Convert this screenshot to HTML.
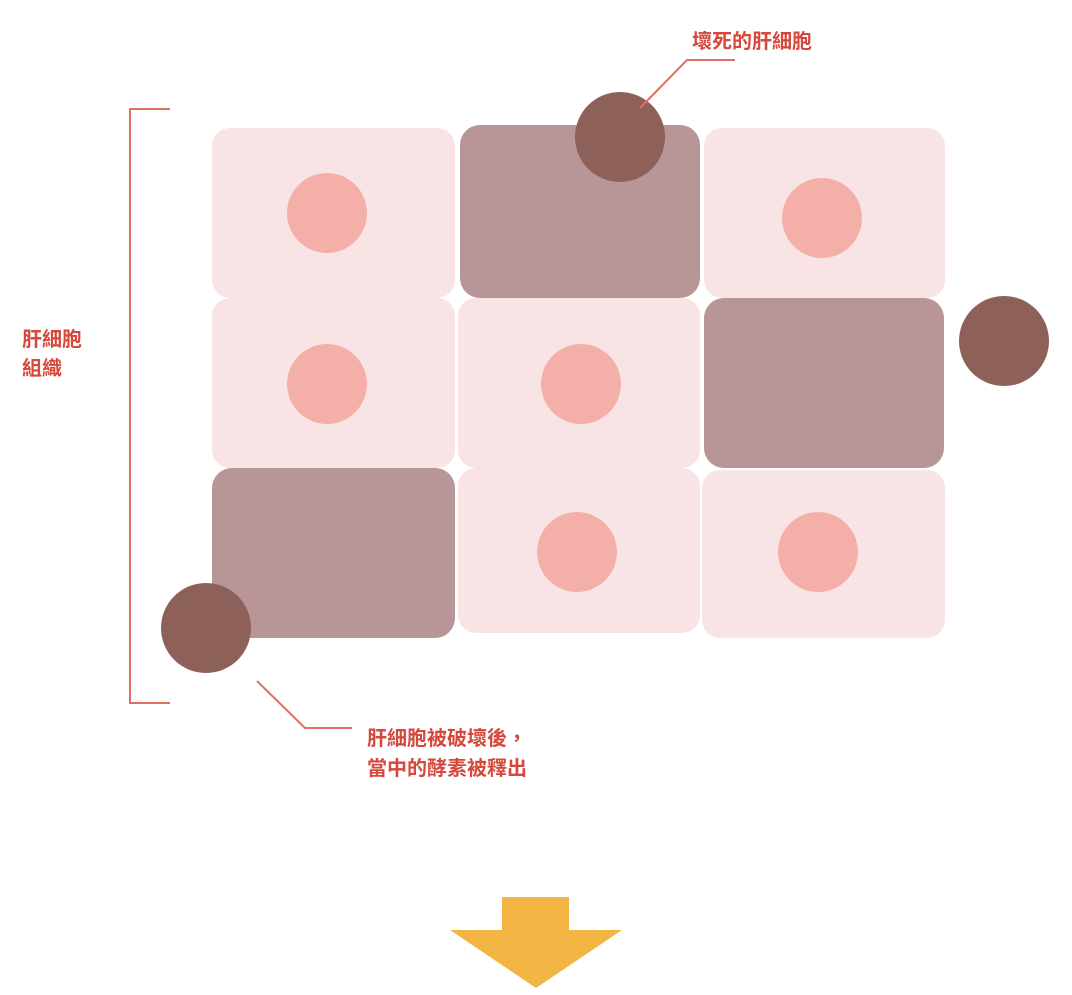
<!DOCTYPE html>
<html><head><meta charset="utf-8"><style>
html,body{margin:0;padding:0;background:#fff;}
svg text{font-family:"Liberation Sans","Noto Sans CJK TC",sans-serif;font-weight:bold;fill:#d5483c;font-size:20px;}
</style></head><body>
<svg width="1072" height="990" viewBox="0 0 1072 990" xmlns="http://www.w3.org/2000/svg">
<g fill="#f9e4e5">
<rect x="212" y="128" width="243" height="170" rx="18"/>
<rect x="704" y="128" width="241" height="170" rx="18"/>
<rect x="212" y="298" width="243" height="170" rx="18"/>
<rect x="458" y="298" width="242" height="170" rx="18"/>
<rect x="458" y="468" width="242" height="165" rx="18"/>
<rect x="702" y="470" width="243" height="168" rx="18"/>
</g>
<g fill="#b89597">
<rect x="460" y="125" width="240" height="173" rx="20"/>
<rect x="704" y="298" width="240" height="170" rx="20"/>
<rect x="212" y="468" width="243" height="170" rx="20"/>
</g>
<g fill="#f4b0a8">
<circle cx="327" cy="213" r="40"/><circle cx="822" cy="218" r="40"/>
<circle cx="327" cy="384" r="40"/><circle cx="581" cy="384" r="40"/>
<circle cx="577" cy="552" r="40"/><circle cx="818" cy="552" r="40"/>
</g>
<g fill="#8e605a">
<circle cx="620" cy="137" r="45"/><circle cx="1004" cy="341" r="45"/><circle cx="206" cy="628" r="45"/>
</g>
<g stroke="#e07060" stroke-width="2" fill="none">
<polyline points="735,60 687,60 640,108"/>
<polyline points="170,109 130,109 130,703 170,703"/>
<polyline points="257,681 305,728 352,728"/>
</g>
<text x="692" y="48">壞死的肝細胞</text>
<text x="22" y="346">肝細胞</text>
<text x="22" y="375">組織</text>
<text x="367" y="745">肝細胞被破壞後，</text>
<text x="367" y="775">當中的酵素被釋出</text>
<g fill="#f2b443">
<rect x="502" y="897" width="67" height="34"/>
<polygon points="450,930 622,930 536,988"/>
</g>
</svg>
</body></html>
